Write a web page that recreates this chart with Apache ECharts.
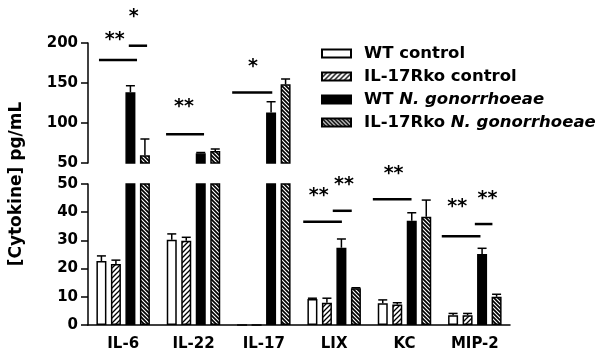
<!DOCTYPE html>
<html>
<head>
<meta charset="utf-8">
<script src="https://cdn.jsdelivr.net/npm/echarts@6/dist/echarts.min.js"></script>
<style>
  html, body { margin: 0; padding: 0; background: #fff; }
  #chart { width: 602px; height: 358px; }
</style>
</head>
<body>
<div id="chart"></div>
<script>
  // data
  var groups = ['IL-6', 'IL-22', 'IL-17', 'LIX', 'KC', 'MIP-2'];
  var names = ['WT control', 'IL-17Rko control', 'WT N. gonorrhoeae', 'IL-17Rko N. gonorrhoeae'];
  var wtCtrl = [22.7, 30.2, 0, 9.2, 7.7, 3.5];
  var koCtrl = [21.6, 29.9, 0, 7.9, 7.3, 3.5];
  var wtNg = [138.5, 62.1, 113, 27.4, 37.0, 25.2];
  var koNg = [59.6, 65, 148.3, 13.0, 38.4, 10.0];
  // upper error (SEM)
  var wtCtrlErr = [1.8, 2.1, 0, 0.3, 1.2, 0.6];
  var koCtrlErr = [1.4, 1.2, 0, 1.6, 0.6, 0.6];
  var wtNgErr = [8.1, 1.0, 13.6, 3.1, 2.8, 2.0];
  var koNgErr = [20.4, 2.5, 6.7, 0.2, 5.9, 0.9];

  // axis break
  var breakAt = 50, topMax = 200, topStep = 50, lowStep = 10;

  // significance bars: [group, from, to (fraction of category), y]
  var topLines = [[0, 0.156, 0.697, 178.75], [0, 0.58, 0.84, 196.6], [1, 0.11, 0.65, 86], [2, 0.05, 0.62, 138]];
  var lowLines = [[3, 0.06, 0.61, 36.6], [3, 0.48, 0.75, 40.5], [4, 0.05, 0.60, 44.6], [5, 0.03, 0.58, 31.5], [5, 0.5, 0.75, 35.8]];
  // stars: [group, x fraction, y, text]
  var topStars = [[0, 0.38, 209, '**'], [0, 0.65, 238, '*'], [1, 0.365, 125, '**'], [2, 0.345, 174.5, '*']];
  var lowStars = [[3, 0.28, 47.1, '**'], [3, 0.64, 51.2, '**'], [4, 0.345, 54.8, '**'], [5, 0.25, 43.2, '**'], [5, 0.68, 46.2, '**']];

  var values = [wtCtrl, koCtrl, wtNg, koNg];
  var errs = [wtCtrlErr, koCtrlErr, wtNgErr, koNgErr];

  var FONT = 'DejaVu Sans';
  var barW = 10, barGap = 0.45;
  var offsets = [];
  var totalW = 4 * barW + 3 * barGap * barW;
  for (var i = 0; i < 4; i++) offsets.push(-totalW / 2 + i * barW * (1 + barGap) + barW / 2);

  function hatch(dir, s, lw) {
    var c = document.createElement('canvas');
    c.width = s; c.height = s;
    var ctx = c.getContext('2d');
    ctx.fillStyle = '#fff';
    ctx.fillRect(0, 0, s, s);
    ctx.strokeStyle = '#000';
    ctx.lineWidth = lw;
    ctx.beginPath();
    if (dir > 0) {
      ctx.moveTo(-1, s + 1); ctx.lineTo(s + 1, -1);
      ctx.moveTo(-1, 1); ctx.lineTo(1, -1);
      ctx.moveTo(s - 1, s + 1); ctx.lineTo(s + 1, s - 1);
    } else {
      ctx.moveTo(-1, -1); ctx.lineTo(s + 1, s + 1);
      ctx.moveTo(s - 1, -1); ctx.lineTo(s + 1, 1);
      ctx.moveTo(-1, s - 1); ctx.lineTo(1, s + 1);
    }
    ctx.stroke();
    return { image: c, repeat: 'repeat' };
  }
  var fills = ['#fff', hatch(1, 5, 1.3), '#000', hatch(-1, 4, 1.7)];

  var series = [];
  [0, 1].forEach(function (p) {
    for (var k = 0; k < 4; k++) {
      series.push({
        name: names[k],
        type: 'bar',
        xAxisIndex: p, yAxisIndex: p,
        barWidth: barW, barGap: (barGap * 100) + '%',
        data: values[k].map(function (v) { return p === 0 ? (v > breakAt ? v : '-') : v; }),
        itemStyle: { color: fills[k], borderColor: '#000', borderWidth: 1.5 },
        silent: true
      });
    }
  });

  // error bars
  var errData = [[], []];
  for (var k = 0; k < 4; k++) {
    for (var g = 0; g < groups.length; g++) {
      if (!errs[k][g]) continue;
      var m = values[k][g];
      errData[m > breakAt ? 0 : 1].push({ g: g, s: k, mean: m, top: m + errs[k][g] });
    }
  }
  [0, 1].forEach(function (p) {
    var list = errData[p];
    series.push({
      type: 'custom', xAxisIndex: p, yAxisIndex: p, z: 5, silent: true,
      data: list.map(function (d) { return [d.g, d.top]; }),
      renderItem: function (params, api) {
        var d = list[params.dataIndex];
        var cx = api.coord([d.g, 0])[0] + offsets[d.s];
        var y0 = api.coord([d.g, d.mean])[1];
        var y1 = api.coord([d.g, d.top])[1];
        var st = { stroke: '#000', lineWidth: 1.5 };
        return { type: 'group', children: [
          { type: 'line', shape: { x1: cx, y1: y0, x2: cx, y2: y1 }, style: st },
          { type: 'line', shape: { x1: cx - 4.5, y1: y1, x2: cx + 4.5, y2: y1 }, style: st }
        ] };
      }
    });
  });

  // significance marks
  [[topLines, topStars], [lowLines, lowStars]].forEach(function (pair, p) {
    var lines = pair[0], stars = pair[1];
    series.push({
      type: 'custom', xAxisIndex: p, yAxisIndex: p, z: 6, silent: true,
      data: lines.map(function (a) { return [a[0], a[3]]; }),
      renderItem: function (params, api) {
        var a = lines[params.dataIndex];
        var band = api.size([1, 0])[0];
        var c = api.coord([a[0], a[3]]);
        return { type: 'line',
          shape: { x1: c[0] + (a[1] - 0.5) * band, y1: c[1], x2: c[0] + (a[2] - 0.5) * band, y2: c[1] },
          style: { stroke: '#000', lineWidth: 2.5 } };
      }
    });
    series.push({
      type: 'custom', xAxisIndex: p, yAxisIndex: p, z: 6, silent: true,
      data: stars.map(function (a) { return [a[0], a[2]]; }),
      renderItem: function (params, api) {
        var a = stars[params.dataIndex];
        var band = api.size([1, 0])[0];
        var c = api.coord([a[0], a[2]]);
        return { type: 'text', x: c[0] + (a[1] - 0.5) * band, y: c[1] + 4,
          style: { text: a[3], fill: '#000', font: 'bold 19px "' + FONT + '"', align: 'center', verticalAlign: 'middle' } };
      }
    });
  });

  var labelStyle = { color: '#000', fontSize: 15, fontWeight: 'bold', fontFamily: FONT };
  var lineStyle = { color: '#000', width: 1.5 };

  var myChart = echarts.init(document.getElementById('chart'));
  var option = {
    animation: false,
    backgroundColor: '#fff',
    grid: [
      { left: 88, right: 92, top: 43, height: 120 },
      { left: 88, right: 92, top: 184, height: 141 }
    ],
    xAxis: [
      { type: 'category', gridIndex: 0, data: groups, show: false },
      { type: 'category', gridIndex: 1, data: groups,
        axisLine: { lineStyle: lineStyle }, axisTick: { show: false },
        axisLabel: Object.assign({ margin: 12 }, labelStyle) }
    ],
    yAxis: [
      { type: 'value', gridIndex: 0, min: breakAt, max: topMax, interval: topStep,
        axisLine: { show: true, lineStyle: lineStyle },
        axisTick: { show: true, length: 7, lineStyle: lineStyle },
        splitLine: { show: false },
        axisLabel: Object.assign({ margin: 10 }, labelStyle) },
      { type: 'value', gridIndex: 1, min: 0, max: breakAt, interval: lowStep,
        axisLine: { show: true, lineStyle: lineStyle },
        axisTick: { show: true, length: 7, lineStyle: lineStyle },
        splitLine: { show: false },
        axisLabel: Object.assign({ margin: 10 }, labelStyle) }
    ],
    legend: {
      data: names,
      orient: 'vertical',
      left: 316, top: 40,
      icon: 'rect',
      itemWidth: 29, itemHeight: 8, itemGap: 6,
      selectedMode: false,
      formatter: function (n) {
        return '{s|}' + n.replace('N. gonorrhoeae', '{i|N. gonorrhoeae}');
      },
      textStyle: {
        color: '#000', fontSize: 16.5, fontWeight: 'bold', fontFamily: FONT, lineHeight: 17,
        rich: {
          s: { width: 8 },
          i: { fontStyle: 'italic', fontSize: 16.5, fontWeight: 'bold', fontFamily: FONT, color: '#000' }
        }
      }
    },
    graphic: [{
      type: 'text', x: 17, y: 184, rotation: Math.PI / 2,
      style: { text: '[Cytokine] pg/mL', fill: '#000', font: 'bold 17px "' + FONT + '"', align: 'center', verticalAlign: 'middle' }
    }],
    series: series
  };

  myChart.setOption(option);
</script>
</body>
</html>
